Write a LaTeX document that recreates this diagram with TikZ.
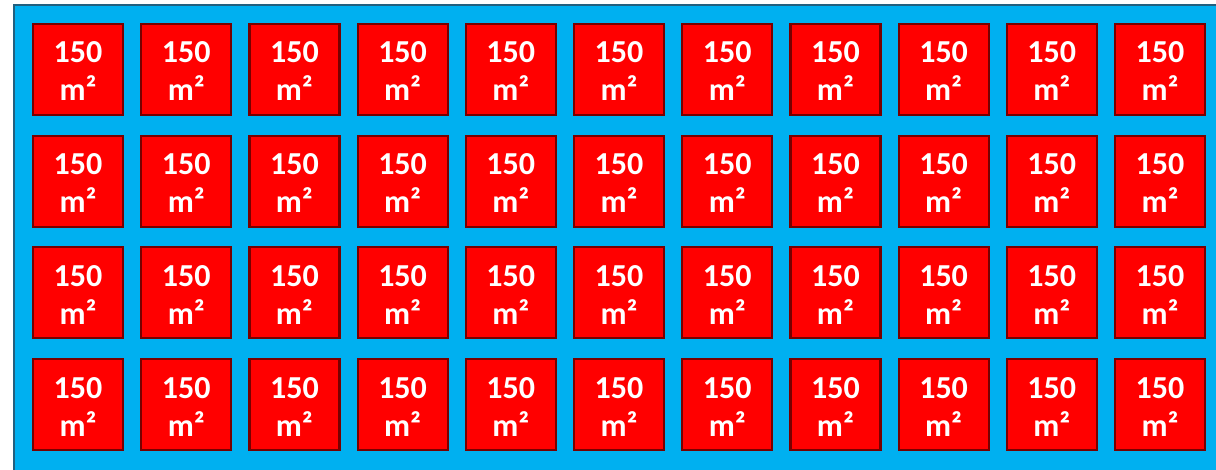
\documentclass[tikz,border=0pt]{standalone}
\usepackage{fontspec}
\setmainfont{Carlito}
\usepackage{tikz}
\definecolor{sitebg}{HTML}{00B0F0}
\definecolor{siteedge}{HTML}{22607F}
\definecolor{plotred}{HTML}{FF0000}
\definecolor{plotedge}{HTML}{780000}
\tikzset{
  plot/.style={draw=plotedge, fill=plotred, line width=2.2pt,
    minimum width=90pt, minimum height=91pt, inner sep=0pt},
  plottext/.style={align=center, text=white, inner sep=0pt, yshift=-2pt,
    font=\fontsize{32}{38}\selectfont\bfseries}
}

\begin{document}
\begin{tikzpicture}[x=1pt, y=-1pt]
    \useasboundingbox (0,0) rectangle (1216,469);
    % site area, runs off the right and bottom edges
    \draw[fill=sitebg, draw=siteedge, line width=1.5pt] (14,5) rectangle (1230,480);
    % 4 rows of 11 lots
    \foreach \r in {0,...,3} {
        \foreach \c in {0,...,10} {
            \node[plot, label={[plottext]center:150\\m²}] (lot-\r-\c)
                at ({78+108.2*\c},{69.5+111.67*\r}) {};
        }
    }
\end{tikzpicture}
\end{document}
